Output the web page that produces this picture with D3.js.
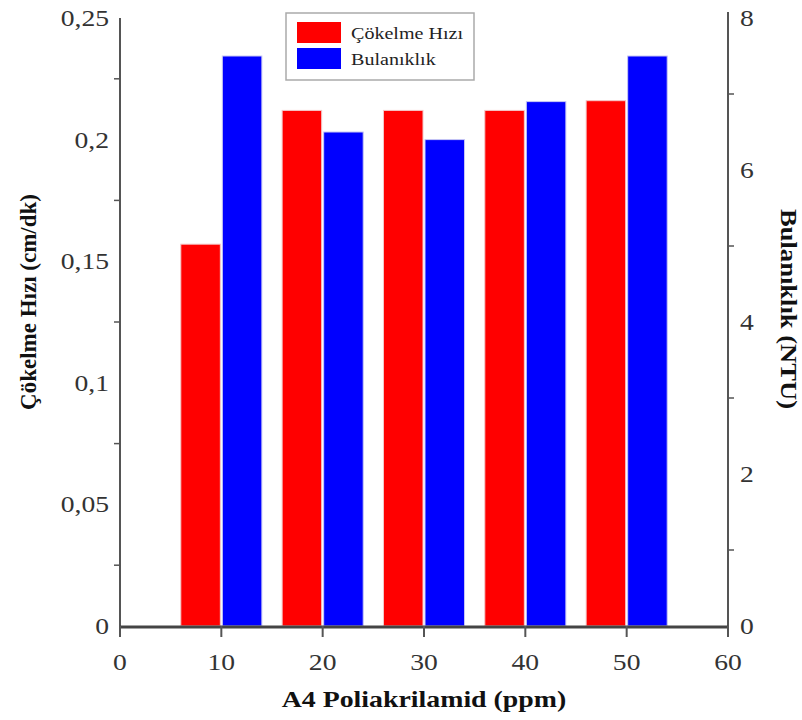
<!DOCTYPE html>
<html>
<head>
<meta charset="utf-8">
<script src="https://cdn.jsdelivr.net/npm/d3@7"></script>
<style>
  body { margin: 0; background: #fff; }
</style>
</head>
<body>
<svg id="chart"></svg>
<script>
const doses = [10, 20, 30, 40, 50];
const cokelme = [0.157, 0.212, 0.212, 0.212, 0.216];
const bulaniklik = [7.5, 6.5, 6.4, 6.9, 7.5];
const xTicks = [0, 10, 20, 30, 40, 50, 60];
const leftTicks = [0, 0.05, 0.1, 0.15, 0.2, 0.25];
const rightTicks = [0, 2, 4, 6, 8];

const width = 802, height = 720;
const svg = d3.select("#chart").attr("width", width).attr("height", height)
  .attr("font-family", "'Liberation Serif', 'Times New Roman', serif");

const plotLeft = 120, plotRight = 728, plotTop = 18, plotBottom = 626;

const x = d3.scaleLinear().domain([0, 60]).range([plotLeft, plotRight]);
const yL = d3.scaleLinear().domain([0, 0.25]).range([plotBottom, plotTop]);
const yR = d3.scaleLinear().domain([0, 8]).range([plotBottom, plotTop]);

const fmt = d => d3.format("~g")(d).replace(".", ",");

// the original picture is a bit stretched sideways
function widen(sel, k = 1.2) {
  sel.each(function() {
    const w = this.getComputedTextLength();
    d3.select(this).attr("textLength", w * k).attr("lengthAdjust", "spacingAndGlyphs");
  });
}

// bars
const halfW = 4;
svg.append("g").selectAll("rect")
  .data(doses)
  .enter().append("rect")
  .attr("x", (d) => x(d - halfW))
  .attr("width", x(halfW) - x(0) - 1)
  .attr("y", (d, i) => yL(cokelme[i]))
  .attr("height", (d, i) => yL(0) - yL(cokelme[i]))
  .attr("fill", "#ff0000")
  .attr("stroke", "#f4c8c8")
  .attr("stroke-width", 1);

svg.append("g").selectAll("rect")
  .data(doses)
  .enter().append("rect")
  .attr("x", (d) => x(d) + 1)
  .attr("width", x(halfW) - x(0) - 1)
  .attr("y", (d, i) => yR(bulaniklik[i]))
  .attr("height", (d, i) => yR(0) - yR(bulaniklik[i]))
  .attr("fill", "#0000ff")
  .attr("stroke", "#c8c8f4")
  .attr("stroke-width", 1);

const axisColor = "#555";

// left axis
svg.append("line").attr("x1", plotLeft).attr("x2", plotLeft).attr("y1", plotTop).attr("y2", plotBottom + 4)
  .attr("stroke", axisColor).attr("stroke-width", 2);
svg.append("g").selectAll("line")
  .data([0.025, 0.075, 0.125, 0.175, 0.225])
  .enter().append("line")
  .attr("x1", plotLeft - 6).attr("x2", plotLeft)
  .attr("y1", d => yL(d)).attr("y2", d => yL(d))
  .attr("stroke", axisColor).attr("stroke-width", 1.5);
svg.append("g").selectAll("text")
  .data(leftTicks)
  .enter().append("text")
  .attr("x", plotLeft - 11)
  .attr("y", d => yL(d))
  .attr("dy", "0.35em")
  .attr("text-anchor", "end")
  .attr("font-size", 23)
  .attr("fill", "#333")
  .text(fmt)
  .call(widen);

// right axis
svg.append("line").attr("x1", plotRight).attr("x2", plotRight).attr("y1", plotTop - 6).attr("y2", plotBottom + 4)
  .attr("stroke", axisColor).attr("stroke-width", 2);
svg.append("g").selectAll("line")
  .data([1, 3, 5, 7])
  .enter().append("line")
  .attr("x1", plotRight).attr("x2", plotRight + 6)
  .attr("y1", d => yR(d)).attr("y2", d => yR(d))
  .attr("stroke", axisColor).attr("stroke-width", 1.5);
svg.append("g").selectAll("text")
  .data(rightTicks)
  .enter().append("text")
  .attr("x", plotRight + 12)
  .attr("y", d => yR(d))
  .attr("dy", "0.35em")
  .attr("text-anchor", "start")
  .attr("font-size", 23)
  .attr("fill", "#333")
  .text(d => d)
  .call(widen);

// bottom axis
svg.append("line").attr("x1", plotLeft).attr("x2", plotRight).attr("y1", plotBottom + 1).attr("y2", plotBottom + 1)
  .attr("stroke", "#444").attr("stroke-width", 3);
svg.append("g").selectAll("line")
  .data(xTicks)
  .enter().append("line")
  .attr("x1", d => x(d)).attr("x2", d => x(d))
  .attr("y1", plotBottom).attr("y2", plotBottom + 11)
  .attr("stroke", axisColor).attr("stroke-width", 2);
svg.append("g").selectAll("text")
  .data(xTicks)
  .enter().append("text")
  .attr("x", d => x(d))
  .attr("y", 670)
  .attr("text-anchor", "middle")
  .attr("font-size", 23)
  .attr("fill", "#333")
  .text(d => d)
  .call(widen);

// axis titles
svg.append("text")
  .attr("x", 424).attr("y", 707)
  .attr("text-anchor", "middle")
  .attr("font-size", 23).attr("font-weight", "bold").attr("fill", "#111")
  .text("A4 Poliakrilamid (ppm)")
  .call(widen, 1.21);

svg.append("text")
  .attr("transform", "translate(36,302) rotate(-90)")
  .attr("text-anchor", "middle")
  .attr("font-size", 23).attr("font-weight", "bold").attr("fill", "#111")
  .text("Çökelme Hızı (cm/dk)");

svg.append("text")
  .attr("transform", "translate(781,309) rotate(90)")
  .attr("text-anchor", "middle")
  .attr("font-size", 23).attr("font-weight", "bold").attr("fill", "#111")
  .text("Bulanıklık (NTU)")
  .attr("textLength", 200).attr("lengthAdjust", "spacingAndGlyphs");

// legend
const legend = svg.append("g").attr("transform", "translate(286,13)");
legend.append("rect").attr("width", 188).attr("height", 67)
  .attr("fill", "#fff").attr("stroke", "#aaa").attr("stroke-width", 1.5);
const legendItems = [["Çökelme Hızı", "#ff0000"], ["Bulanıklık", "#0000ff"]];
legend.selectAll("g.item")
  .data(legendItems)
  .enter().append("g")
  .attr("class", "item")
  .attr("transform", (d, i) => `translate(11,${9 + i * 26})`)
  .each(function(d) {
    const g = d3.select(this);
    g.append("rect").attr("width", 44).attr("height", 21).attr("fill", d[1]);
    g.append("text").attr("x", 54).attr("y", 11).attr("dy", "0.35em")
      .attr("font-size", 17).attr("fill", "#222").text(d[0])
      .call(widen, 1.18);
  });
</script>
</body>
</html>
